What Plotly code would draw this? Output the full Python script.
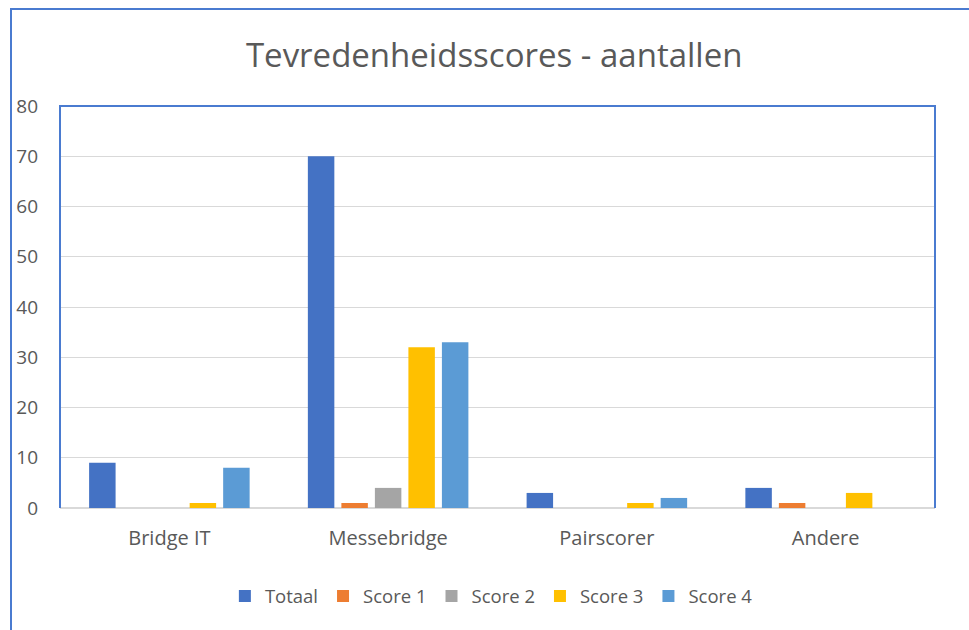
import plotly.graph_objects as go

categories = ["Bridge IT", "Messebridge", "Pairscorer", "Andere"]
series_names = ["Totaal", "Score 1", "Score 2", "Score 3", "Score 4"]
totaal = [9, 70, 3, 4]
score1 = [0, 1, 0, 1]
score2 = [0, 4, 0, 0]
score3 = [1, 32, 1, 3]
score4 = [8, 33, 2, 0]
colors = ["#4472C4", "#ED7D31", "#A5A5A5", "#FFC000", "#5B9BD5"]
y_ticks = [0, 10, 20, 30, 40, 50, 60, 70, 80]

fig = go.Figure()
for name, vals, col in zip(series_names, [totaal, score1, score2, score3, score4], colors):
    fig.add_trace(go.Bar(x=categories, y=vals, name=name,
                         marker=dict(color=col, line=dict(width=0))))

FONT = "Open Sans"
BORDER = "#4A7BD0"

fig.update_layout(
    width=969, height=630,
    margin=dict(l=60, r=34, t=106, b=122),
    paper_bgcolor="white", plot_bgcolor="white",
    barmode="group", bargap=0.234, bargroupgap=0.21,
    title=dict(text="Tevredenheidsscores - aantallen", x=0.510, xanchor="center",
               y=1 - 55 / 630, yanchor="middle",
               font=dict(family=FONT, size=33, color="#595959")),
    font=dict(family=FONT, color="#595959"),
    legend=dict(orientation="h", x=0.493, xanchor="center", y=-0.22, yanchor="middle",
                font=dict(size=18.5, color="#595959"), traceorder="normal",
                itemwidth=30),
    showlegend=True,
)
fig.update_xaxes(showgrid=False, showline=False, ticks="", tickfont=dict(size=20, color="#595959"),
                 ticklabelstandoff=16)
fig.update_yaxes(range=[0, 80], tickvals=y_ticks, showgrid=True, gridcolor="#D9D9D9", gridwidth=1,
                 zeroline=True, zerolinecolor="#D9D9D9", zerolinewidth=1.5,
                 showline=False, tickfont=dict(size=19, color="#595959"),
                 ticklabelstandoff=21)

# plot area border (left, top, right)
fig.add_shape(type="path", xref="paper", yref="paper",
              path="M 0 0 L 0 1 L 1 1 L 1 0", line=dict(color=BORDER, width=2), layer="above")
# outer chart frame (top + left edges visible)
x0 = (11 - 60) / 875
y0 = 1 + (106 - 9) / 402
fig.add_shape(type="path", xref="paper", yref="paper",
              path=f"M {x0} -0.4 L {x0} {y0} L 1.2 {y0}", line=dict(color=BORDER, width=2))

fig.write_html("out.html", config={"displayModeBar": False},
               post_script="document.body.style.margin='0';document.body.style.overflow='hidden';")
